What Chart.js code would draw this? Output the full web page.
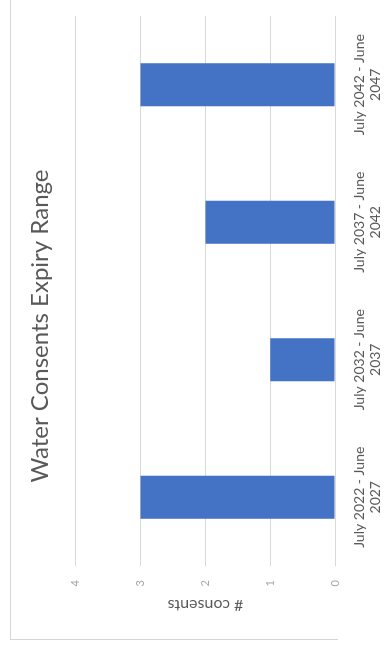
<!DOCTYPE html>
<html>
<head>
<meta charset="utf-8">
<script src="https://cdn.jsdelivr.net/npm/chart.js@4"></script>
<style>
  html, body { margin: 0; padding: 0; background: #fff; }
  body { width: 392px; height: 650px; overflow: hidden; position: relative; }
  /* light frame around the chart object */
  #frame {
    position: absolute; left: 10px; top: 0;
    width: 327px; height: 639px;
    border-left: 1px solid #d6d6d6; border-bottom: 1px solid #d6d6d6;
  }
  /* chart is laid out landscape and turned a quarter turn */
  #wrap {
    position: absolute; left: 0; top: 0;
    width: 650px; height: 392px;
    transform-origin: 0 0;
    transform: translate(0, 650px) rotate(-90deg);
  }
</style>
</head>
<body>
<div id="frame"></div>
<div id="wrap"><canvas id="chart" width="650" height="392"></canvas></div>
<script>
const categories = [
    ['July 2022 - June', '2027'],
    ['July 2032 - June', '2037'],
    ['July 2037 - June', '2042'],
    ['July 2042 - June', '2047']
];
const consentCounts = [3, 1, 2, 3];
const axisMax = 4;

const ctx = document.getElementById('chart').getContext('2d');
new Chart(ctx, {
    type: 'bar',
    data: {
        labels: categories,
        datasets: [{
            label: '# consents',
            data: consentCounts,
            backgroundColor: '#4472C4',
            barPercentage: 0.313,
            categoryPercentage: 1
        }]
    },
    options: {
        responsive: false,
        animation: false,
        devicePixelRatio: 1,
        layout: { padding: { left: 14, right: 16, top: 0, bottom: 0 } },
        plugins: {
            legend: { display: false },
            tooltip: { enabled: false },
            title: {
                display: true,
                text: 'Water Consents Expiry Range',
                color: '#595959',
                font: { family: 'Lato', size: 24, weight: 'normal' },
                padding: { top: 26, bottom: 21 }
            }
        },
        scales: {
            x: {
                grid: { display: false },
                border: { display: false },
                ticks: {
                    color: '#595959',
                    font: { family: 'Lato', size: 14, lineHeight: 1.15 },
                    padding: 8,
                    maxRotation: 0,
                    autoSkip: false
                },
                afterFit: s => { s.height = 57; }
            },
            y: {
                min: 0,
                max: axisMax,
                ticks: {
                    stepSize: 1,
                    color: '#a6a6a6',
                    font: { family: 'Lato', size: 11 },
                    padding: 14
                },
                grid: { color: '#d9d9d9', drawTicks: false },
                border: { display: false },
                title: {
                    display: true,
                    text: '# consents',
                    color: '#595959',
                    font: { family: 'Lato', size: 16 },
                    padding: { top: 21, bottom: 0 }
                },
                afterFit: s => { s.width = 70; }
            }
        }
    }
});
</script>
</body>
</html>
